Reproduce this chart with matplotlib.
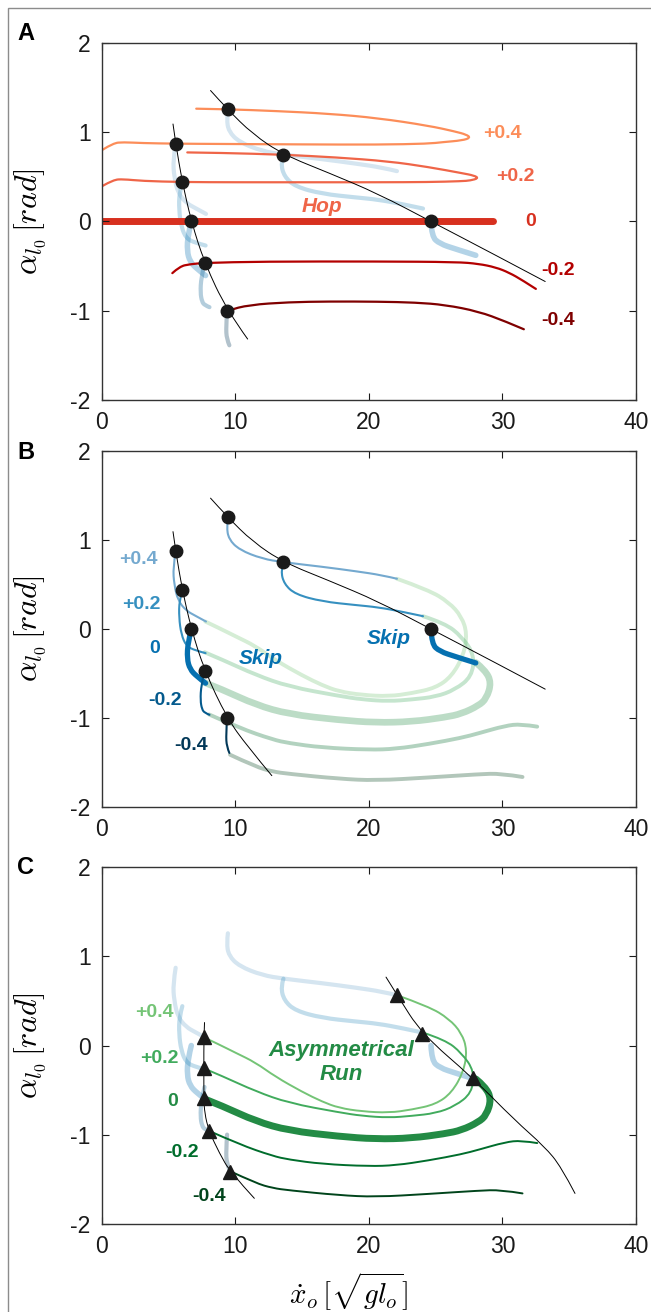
import numpy as np
import matplotlib
matplotlib.use("Agg")
import matplotlib.pyplot as plt
from matplotlib.patches import Rectangle, PathPatch
from matplotlib.path import Path

plt.rcParams['font.family'] = ['Liberation Sans', 'DejaVu Sans']
plt.rcParams['mathtext.fontset'] = 'cm'
plt.rcParams['axes.unicode_minus'] = False

levels = ["+0.4", "+0.2", "0", "-0.2", "-0.4"]
hop_colors = ["#fc8d59", "#ef6548", "#d7301f", "#b30000", "#7f0000"]
skip_colors = ["#74a9cf", "#3690c0", "#0570b0", "#045a8d", "#023858"]
run_colors = ["#74c476", "#41ab5d", "#238b45", "#006d2c", "#00441b"]

# panel A: hop solutions
hop_x = [
    [7.07, 9.44, 13, 17, 20.7, 24.46, 26.45, 27.3, 27.6, 27.0, 25.5, 24.46, 20.7, 15, 9, 5.53, 3.0, 1.6, 0.86, 0.07],
    [6.4, 9.0, 13.6, 17.5, 21.5, 24.46, 26.94, 27.9, 28.2, 27.6, 26.94, 24.46, 20.7, 15, 10, 6.03, 3.0, 1.6, 0.86, 0.07],
    [0.0, 29.3],
    [5.28, 5.83, 6.57, 7.69, 12, 20.7, 26.6, 28.2, 29.5, 30.5, 31.5, 32.5],
    [9.06, 9.38, 11.04, 14.0, 17, 20.7, 23.5, 25.7, 28.2, 30.2, 31.6],
]
hop_y = [
    [1.266, 1.26, 1.24, 1.21, 1.16, 1.075, 1.01, 0.975, 0.94, 0.91, 0.89, 0.873, 0.862, 0.865, 0.87, 0.873, 0.88, 0.89, 0.88, 0.806],
    [0.775, 0.77, 0.75, 0.72, 0.675, 0.611, 0.543, 0.515, 0.485, 0.46, 0.452, 0.442, 0.44, 0.44, 0.44, 0.442, 0.455, 0.475, 0.468, 0.40],
    [0.0, 0.0],
    [-0.58, -0.505, -0.48, -0.465, -0.45, -0.449, -0.455, -0.475, -0.515, -0.575, -0.66, -0.757],
    [-1.05, -1.0, -0.936, -0.906, -0.898, -0.90, -0.91, -0.936, -1.01, -1.12, -1.21],
]

# skip solutions (one or two branches per level)
skip_x = [
    [[9.44, 9.35, 9.5, 10.3, 12.0, 13.6, 16.5, 19.0, 21.0, 22.1],
     [5.53, 5.33, 5.42, 5.7, 6.32, 7.0, 7.8]],
    [[13.6, 13.4, 13.65, 14.5, 16.5, 19.0, 20.7, 22.5, 24.05],
     [6.03, 5.8, 5.78, 5.95, 6.32, 7.0, 7.77]],
    [[24.65, 24.7, 25.3, 26.5, 28.0],
     [6.70, 6.45, 6.38, 6.6, 7.1, 7.77]],
    [[7.69, 7.44, 7.38, 7.5, 7.7, 8.06]],
    [[9.38, 9.3, 9.35, 9.55]],
]
skip_y = [
    [[1.26, 1.15, 1.01, 0.89, 0.79, 0.75, 0.70, 0.65, 0.605, 0.565],
     [0.873, 0.69, 0.50, 0.32, 0.207, 0.15, 0.085]],
    [[0.75, 0.656, 0.506, 0.39, 0.31, 0.27, 0.245, 0.195, 0.145],
     [0.442, 0.32, 0.13, -0.06, -0.19, -0.24, -0.27]],
    [[0.0, -0.168, -0.25, -0.31, -0.38],
     [0.0, -0.15, -0.33, -0.45, -0.53, -0.607]],
    [[-0.465, -0.63, -0.80, -0.90, -0.94, -0.962]],
    [[-1.0, -1.18, -1.32, -1.39]],
]

# asymmetrical run solutions
run_x = [
    [22.1, 24.46, 26.0, 26.94, 27.35, 27.1, 26.2, 25.0, 23.2, 21.5, 19.5, 17.75, 16.5, 15.0, 13.0, 11.5, 10.0, 8.8, 7.75],
    [24.05, 25.7, 26.94, 27.9, 27.7, 26.45, 25.0, 23.2, 21.5, 19.5, 17.75, 14.0, 11.54, 9.05, 7.7],
    [28.0, 28.7, 29.17, 28.8, 28.2, 26.94, 25.7, 23.2, 20.5, 17.75, 14.0, 11.54, 9.05, 7.7],
    [8.03, 10.3, 12.8, 14.0, 16.5, 20.0, 22.0, 24.46, 26.94, 28.2, 30.2, 31.4, 32.6],
    [9.6, 11.54, 12.8, 14.0, 17.75, 20.5, 24.46, 28.2, 29.9, 31.5],
]
run_y = [
    [0.565, 0.44, 0.30, 0.14, -0.05, -0.29, -0.53, -0.66, -0.72, -0.755, -0.74, -0.70, -0.63, -0.52, -0.35, -0.19, -0.08, 0.01, 0.085],
    [0.145, 0.065, -0.083, -0.29, -0.533, -0.68, -0.76, -0.79, -0.81, -0.79, -0.75, -0.645, -0.515, -0.345, -0.26],
    [-0.375, -0.46, -0.6, -0.78, -0.86, -0.95, -0.99, -1.04, -1.05, -1.02, -0.955, -0.85, -0.68, -0.6],
    [-0.958, -1.11, -1.24, -1.28, -1.33, -1.355, -1.345, -1.29, -1.22, -1.17, -1.085, -1.065, -1.095],
    [-1.41, -1.546, -1.6, -1.625, -1.68, -1.70, -1.666, -1.629, -1.62, -1.66],
]

# transition points and boundary lines
dot_x = [9.44, 5.53, 13.6, 6.03, 6.70, 24.65, 7.69, 9.38]
dot_y = [1.26, 0.873, 0.75, 0.442, 0.0, 0.0, -0.465, -1.0]
tri_x = [7.64, 7.64, 7.64, 8.01, 9.63, 22.1, 23.96, 27.8]
tri_y = [0.094, -0.254, -0.59, -0.955, -1.423, 0.57, 0.131, -0.366]

edge_left_x = [5.33, 5.53, 6.03, 6.70, 7.69, 9.38, 10.92, 12.73]
edge_left_y = [1.094, 0.873, 0.442, 0.0, -0.465, -1.0, -1.32, -1.645]
edge_right_x = [8.14, 9.38, 11.3, 13.6, 17.0, 20.7, 24.65, 29.0, 33.2]
edge_right_y = [1.47, 1.263, 0.98, 0.75, 0.545, 0.31, 0.0, -0.34, -0.674]
run_left_x = [7.69, 7.64, 7.64, 7.64, 7.7, 8.01, 8.81, 9.63, 11.42]
run_left_y = [0.258, 0.094, -0.254, -0.59, -0.76, -0.955, -1.21, -1.423, -1.715]
run_right_x = [21.28, 22.1, 23.96, 27.8, 30.9, 33.15, 34.39, 35.43]
run_right_y = [0.768, 0.57, 0.131, -0.366, -0.835, -1.135, -1.36, -1.66]


def curve(ax, x, y, **kw):
    # smooth quadratic path through the midpoints of the read points
    p = np.column_stack([x, y])
    if len(p) < 3:
        verts, codes = list(p), [Path.MOVETO, Path.LINETO]
    else:
        verts, codes = [p[0]], [Path.MOVETO]
        for i in range(1, len(p) - 1):
            end = p[i + 1] if i == len(p) - 2 else (p[i] + p[i + 1]) / 2
            verts += [p[i], end]
            codes += [Path.CURVE3, Path.CURVE3]
    ax.add_patch(PathPatch(Path(verts, codes), fill=False, capstyle="round",
                           joinstyle="round", **kw))


fig = plt.figure(figsize=(6.51, 13.12), dpi=100)
fig.add_artist(Rectangle((8 / 651, -0.1), 2, 1.1 - 8 / 1312, transform=fig.transFigure,
                         fill=False, edgecolor="#8c8c8c", lw=1.0))

rects = [[0.1564, 0.6954, 0.8206, 0.2716],
         [0.1564, 0.3847, 0.8206, 0.2716],
         [0.1564, 0.0673, 0.8206, 0.2716]]
axes = [fig.add_axes(r) for r in rects]

for ax, letter, ly in zip(axes, "ABC", [34, 453, 868]):
    ax.set_xlim(0, 40)
    ax.set_ylim(-2, 2)
    ax.set_xticks([0, 10, 20, 30, 40])
    ax.set_yticks([-2, -1, 0, 1, 2])
    ax.tick_params(direction="in", top=True, right=True, length=5, width=0.8,
                   labelsize=16.5, pad=8, colors="#1a1a1a")
    for s in ax.spines.values():
        s.set_linewidth(1.0)
        s.set_color("#333333")
    ax.set_ylabel(r"$\alpha_{l_0}\,[rad]$", fontsize=23)
    ax.yaxis.set_label_coords(-0.10, 0.5)
    fig.text(26 / 651, 1 - ly / 1312, letter, fontsize=17, fontweight="bold",
             ha="center", va="center")

# ---- A: hop
ax = axes[0]
for i in range(5):
    for sx, sy in zip(skip_x[i], skip_y[i]):
        curve(ax, sx, sy, edgecolor=skip_colors[i], alpha=0.3, lw=4.0 if i == 2 else 3.0)
for i in range(5):
    curve(ax, hop_x[i], hop_y[i], edgecolor=hop_colors[i], lw=5 if i == 2 else 1.6)
curve(ax, edge_left_x[:-1], edge_left_y[:-1], edgecolor="k", lw=0.7)
curve(ax, edge_right_x, edge_right_y, edgecolor="k", lw=0.7)
ax.plot(dot_x, dot_y, "o", color="#1a1a1a", ms=9, ls="none")
a_lab = [(29.97, 0.99), (30.96, 0.5), (32.1, 0.0), (34.14, -0.554), (34.14, -1.11)]
for i, (tx, ty) in enumerate(a_lab):
    ax.text(tx, ty, levels[i], color=hop_colors[i], fontsize=14, fontweight="bold",
            ha="center", va="center")
ax.text(16.5, 0.17, "Hop", color="#ef6548", fontsize=15, fontweight="bold",
        fontstyle="italic", ha="center", va="center")

# ---- B: skip
ax = axes[1]
for i in range(5):
    curve(ax, run_x[i], run_y[i], edgecolor=run_colors[i], alpha=0.3,
          lw=4.8 if i == 2 else 2.8)
for i in range(5):
    for sx, sy in zip(skip_x[i], skip_y[i]):
        curve(ax, sx, sy, edgecolor=skip_colors[i], lw=3.8 if i == 2 else 1.5)
curve(ax, edge_left_x, edge_left_y, edgecolor="k", lw=0.7)
curve(ax, edge_right_x, edge_right_y, edgecolor="k", lw=0.7)
ax.plot(dot_x, dot_y, "o", color="#1a1a1a", ms=9, ls="none")
b_lab = [(2.72, 0.78), (2.97, 0.273), (3.96, -0.214), (4.71, -0.8), (6.7, -1.31)]
for i, (tx, ty) in enumerate(b_lab):
    ax.text(tx, ty, levels[i], color=skip_colors[i], fontsize=14, fontweight="bold",
            ha="center", va="center")
for tx, ty in [(11.9, -0.33), (21.47, -0.1)]:
    ax.text(tx, ty, "Skip", color="#0570b0", fontsize=15, fontweight="bold",
            fontstyle="italic", ha="center", va="center")

# ---- C: asymmetrical run
ax = axes[2]
for i in range(5):
    for sx, sy in zip(skip_x[i], skip_y[i]):
        curve(ax, sx, sy, edgecolor=skip_colors[i], alpha=0.3, lw=4.0 if i == 2 else 3.0)
for i in range(5):
    curve(ax, run_x[i], run_y[i], edgecolor=run_colors[i], lw=5.0 if i == 2 else 1.4)
curve(ax, run_left_x, run_left_y, edgecolor="k", lw=0.7)
curve(ax, run_right_x, run_right_y, edgecolor="k", lw=0.7)
ax.plot(tri_x, tri_y, "^", color="#1a1a1a", ms=10, ls="none")
c_lab = [(3.96, 0.37), (4.29, -0.142), (5.28, -0.63), (6.03, -1.2), (8.01, -1.7)]
for i, (tx, ty) in enumerate(c_lab):
    ax.text(tx, ty, levels[i], color=run_colors[i], fontsize=14, fontweight="bold",
            ha="center", va="center")
ax.text(17.9, -0.19, "Asymmetrical\nRun", color="#238b45", fontsize=16, fontweight="bold",
        fontstyle="italic", ha="center", va="center", linespacing=1.15)
ax.set_xlabel(r"$\dot{x}_o\,[\sqrt{gl_o}]$", fontsize=21)
ax.xaxis.set_label_coords(0.461, -0.192)
ax.xaxis.label.set_va("center")

fig.savefig("out.png", dpi=100)
